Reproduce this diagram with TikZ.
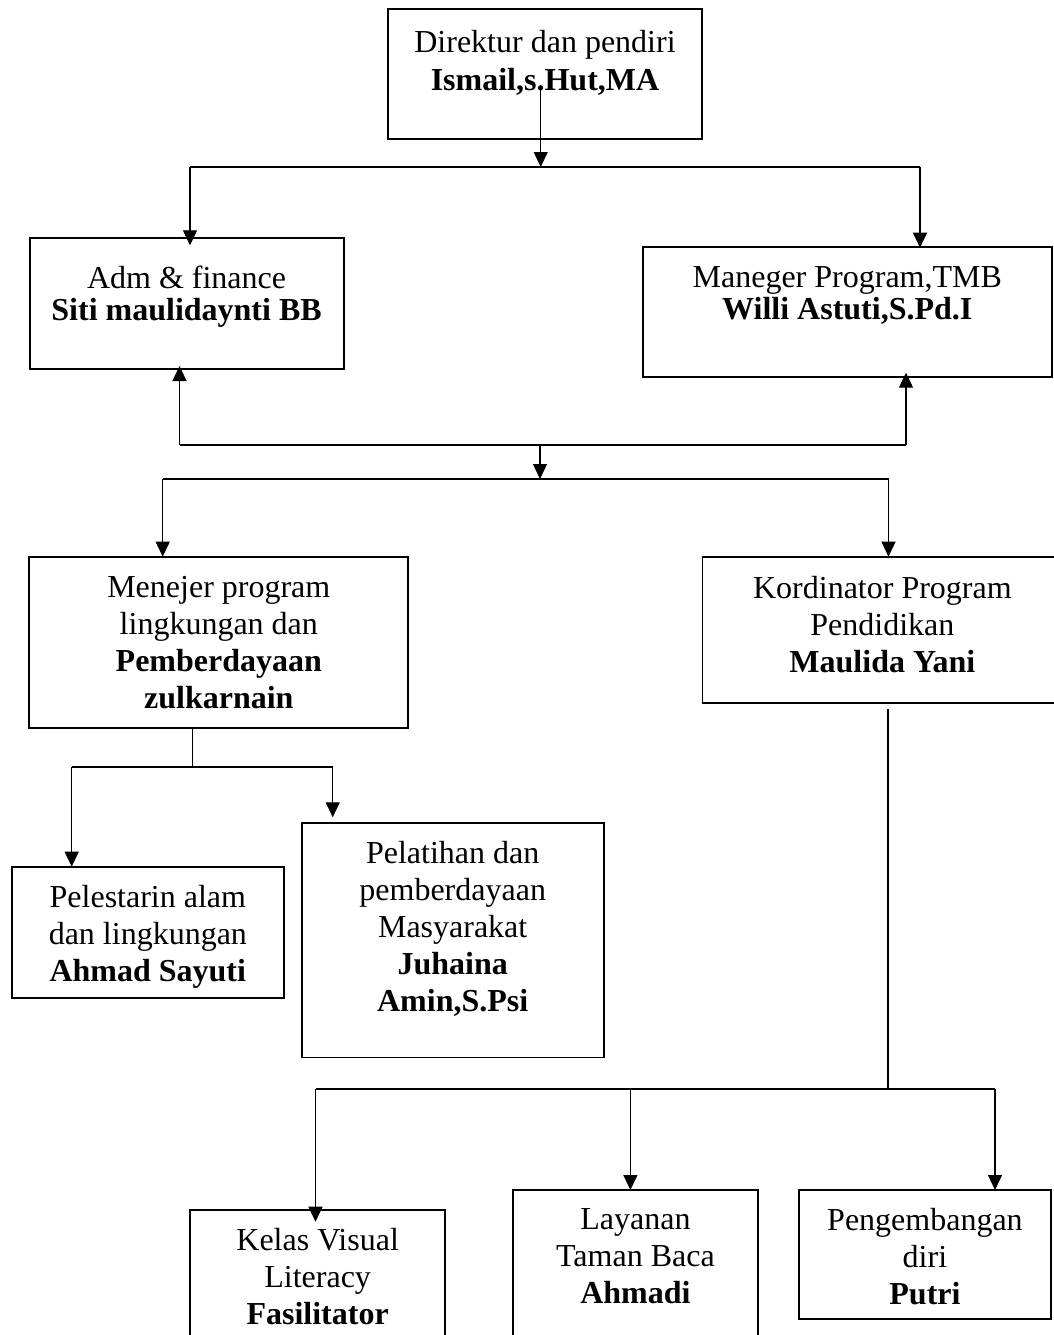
\documentclass[tikz,border=0pt]{standalone}
\usepackage{fontspec}
\setmainfont{Liberation Serif}
\usetikzlibrary{arrows.meta}
\usetikzlibrary{positioning}

\tikzset{
  box/.style = {draw, line width=1.8pt, inner sep=0pt, outer sep=0pt, anchor=north west},
  boxtext/.style = {align=center, inner sep=0pt, font=\fontsize{32}{37}\selectfont},
  link/.style = {line width=1.2pt}
}

\begin{document}
\begin{tikzpicture}[x=1pt, y=-1pt, >={Triangle[length=15pt,width=14pt]}]
          \useasboundingbox (0,0) rectangle (1054,1335);
          \clip (0,0) rectangle (1054,1335);

          \node[box, minimum width=313.4pt, minimum height=130pt] (dir) at (388.3,9.3) {};
          \node[box, minimum width=314pt, minimum height=130.7pt] (adm) at (29.6,238.3) {};
          \node[box, minimum width=409.4pt, minimum height=130pt] (man) at (642.6,246.7) {};
          \node[box, minimum width=379pt, minimum height=171pt] (menj) at (29.3,556.7) {};
          \node[box, minimum width=360pt, minimum height=146.6pt] (kord) at (702.4,556.7) {};
          \node[box, minimum width=272.3pt, minimum height=131pt] (pel) at (11.7,866.7) {};
          \node[box, minimum width=302pt, minimum height=234.2pt] (plt) at (301.7,823.3) {};
          \node[box, minimum width=255.3pt, minimum height=170pt] (kelas) at (190,1210) {};
          \node[box, minimum width=245.2pt, minimum height=190pt] (lay) at (512.8,1190) {};
          \node[box, minimum width=252.5pt, minimum height=129.3pt] (peng) at (798.7,1190) {};

          \node[boxtext, font=\fontsize{32}{38.4}\selectfont, below=20.4pt of dir.north] (dirtext)
              {Direktur dan pendiri\\ \textbf{Ismail,s.Hut,MA}};
          \node[boxtext, font=\fontsize{32}{32}\selectfont, below=27.7pt of adm.north] (admtext)
              {Adm \& finance\\ \textbf{Siti maulidaynti BB}};
          \node[boxtext, font=\fontsize{32}{32}\selectfont, below=19.3pt of man.north] (mantext)
              {Maneger Program,TMB\\ \textbf{Willi Astuti,S.Pd.I}};
          \node[boxtext, below=19.3pt of menj.north] (menjtext)
              {Menejer program\\ lingkungan dan\\ \textbf{Pemberdayaan}\\ \textbf{zulkarnain}};
          \node[boxtext, below=19.3pt of kord.north] (kordtext)
              {Kordinator Program\\ Pendidikan\\ \textbf{Maulida Yani}};
          \node[boxtext, below=18pt of pel.north] (peltext)
              {Pelestarin alam\\ dan lingkungan\\ \textbf{Ahmad Sayuti}};
          \node[boxtext, below=18pt of plt.north] (plttext)
              {Pelatihan dan\\ pemberdayaan\\ Masyarakat\\ \textbf{Juhaina}\\ \textbf{Amin,S.Psi}};
          \node[boxtext, below=18pt of kelas.north] (kelastext)
              {Kelas Visual\\ Literacy\\ \textbf{Fasilitator}};
          \node[boxtext, below=18pt of lay.north] (laytext)
              {Layanan\\ Taman Baca\\ \textbf{Ahmadi}};
          \node[boxtext, below=18pt of peng.north] (pengtext)
              {Pengembangan\\ diri\\ \textbf{Putri}};

          \coordinate (busa) at (540.7,167);
          \coordinate (busal) at (190,167);
          \coordinate (busar) at (920,167);
          \draw [link,->,shorten <=-11pt] (dirtext.south -| busa) -- (busa);
          \draw [link] (busal) -- (busar);
          \draw [link,->,shorten >=-7pt] (busal) -- (busal |- adm.north);
          \draw [link,->,shorten >=-1pt] (busar) -- (busar |- man.north);

          \coordinate (busb) at (540,445);
          \coordinate (busbl) at (179.5,445);
          \coordinate (busbr) at (906,445);
          \draw [link] (busbl) -- (busbr);
          \draw [link,->,shorten >=-3pt] (busbl) -- (busbl |- adm.south);
          \draw [link,->,shorten >=-4pt] (busbr) -- (busbr |- man.south);

          \coordinate (busc) at (540,479);
          \coordinate (buscl) at (162.7,479);
          \coordinate (buscr) at (888.5,479);
          \draw [link,->] (busb) -- (busc);
          \draw [link] (buscl) -- (buscr);
          \draw [link,->] (buscl) -- (buscl |- menj.north);
          \draw [link,->] (buscr) -- (buscr |- kord.north);

          \coordinate (busd) at (192.3,767);
          \coordinate (busdl) at (71.7,767);
          \coordinate (busdr) at (332.7,767);
          \draw [link] (menj.south -| busd) -- (busd);
          \draw [link] (busdl) -- (busdr);
          \draw [link,->] (busdl) -- (busdl |- pel.north);
          \draw [link,->,shorten >=6pt] (busdr) -- (busdr |- plt.north);

          \coordinate (buse) at (888,1089);
          \coordinate (busel) at (315.5,1089);
          \coordinate (busem) at (630.4,1089);
          \coordinate (buser) at (995,1089);
          \draw [link,shorten <=5.7pt] (kord.south -| buse) -- (buse);
          \draw [link] (busel) -- (buser);
          \draw [link,->,shorten >=-11.7pt] (busel) -- (busel |- kelas.north);
          \draw [link,->] (busem) -- (busem |- lay.north);
          \draw [link,->] (buser) -- (buser |- peng.north);
        \end{tikzpicture}
\end{document}
